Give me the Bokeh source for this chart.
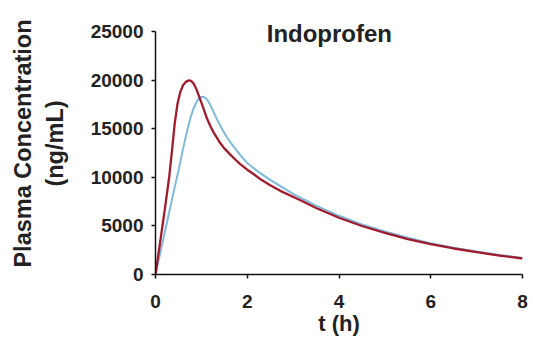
from bokeh.plotting import figure
from bokeh.models import Label, FixedTicker, Range1d
from bokeh.embed import file_html
from bokeh.resources import INLINE

# Time points (h) and plasma concentrations (ng/mL)
t_red = [0, 0.1, 0.2, 0.3, 0.36, 0.42, 0.48, 0.54, 0.6, 0.66, 0.72, 0.78, 0.84, 0.9, 0.97, 1.04, 1.12, 1.2, 1.26, 1.35, 1.41, 1.5, 1.63, 1.75, 1.84, 2.0, 2.15, 2.28, 2.5, 2.72, 3.16, 3.5, 4.0, 4.5, 5.0, 5.5, 6.0, 6.5, 7.0, 7.5, 8.0]
c_red = [0, 3300, 6600, 10100, 12800, 15600, 17600, 18800, 19500, 19850, 20000, 19950, 19600, 19000, 18100, 17200, 16100, 15250, 14700, 14000, 13550, 13000, 12350, 11800, 11400, 10800, 10300, 9850, 9200, 8620, 7650, 6850, 5850, 5000, 4300, 3650, 3120, 2680, 2300, 1950, 1650]

t_blue = [0, 0.2, 0.4, 0.5, 0.58, 0.64, 0.7, 0.76, 0.82, 0.88, 0.94, 1.0, 1.04, 1.1, 1.15, 1.2, 1.25, 1.34, 1.45, 1.55, 1.63, 1.75, 1.9, 2.0, 2.25, 2.5, 3.0, 3.5, 4.0, 4.5, 5.0, 5.5, 6.0, 6.5, 7.0, 7.5, 8.0]
c_blue = [0, 4300, 8600, 10700, 12500, 13800, 15000, 16100, 17000, 17650, 18100, 18300, 18320, 18150, 17850, 17400, 16900, 16000, 15000, 14200, 13650, 12900, 12000, 11500, 10550, 9750, 8300, 7100, 6050, 5170, 4430, 3780, 3230, 2770, 2370, 2010, 1700]

x_ticks = [0, 2, 4, 6, 8]
y_ticks = [0, 5000, 10000, 15000, 20000, 25000]

title_text = "Indoprofen"
x_label = "t (h)"
y_label = "Plasma Concentration\n(ng/mL)"

p = figure(width=533, height=341, output_backend="svg", toolbar_location=None,
           x_range=Range1d(0, 8), y_range=Range1d(0, 27000),
           min_border_left=155, min_border_right=11, min_border_top=12, min_border_bottom=67)
p.outline_line_color = None
p.grid.visible = False
p.background_fill_color = "white"
p.border_fill_color = "white"

p.line(t_blue, c_blue, line_color="#7dbadc", line_width=2, line_join="round")
p.line(t_red, c_red, line_color="#a11b2e", line_width=2.3, line_join="round")

for ax in (p.xaxis[0], p.yaxis[0]):
    ax.axis_line_color = "#111111"
    ax.axis_line_width = 1.5
    ax.major_tick_line_color = "#111111"
    ax.major_tick_line_width = 1.5
    ax.major_tick_in = 0
    ax.major_tick_out = 4
    ax.minor_tick_line_color = None
    ax.major_label_text_font = "Liberation Sans"
    ax.major_label_text_font_style = "bold"
    ax.major_label_text_font_size = "19px"
    ax.major_label_text_color = "#222222"
    ax.axis_label_text_font = "Liberation Sans"
    ax.axis_label_text_font_style = "bold"
    ax.axis_label_text_color = "#222222"

p.xaxis.axis_label_text_font_size = "22px"
p.yaxis.axis_label_text_font_size = "23.5px"
p.xaxis.ticker = FixedTicker(ticks=x_ticks)
p.yaxis.ticker = FixedTicker(ticks=y_ticks)
p.yaxis.bounds = (0, 25000)
p.xaxis.axis_label = x_label
p.yaxis.axis_label = y_label
p.xaxis.major_label_standoff = 16
p.yaxis.major_label_standoff = 8
p.xaxis.axis_label_standoff = 0
p.yaxis.axis_label_standoff = 20

title = Label(x=3.79, y=24825, text=title_text, text_align="center", text_baseline="alphabetic",
              text_font="Liberation Sans", text_font_style="bold", text_font_size="24px",
              text_color="#222222")
p.add_layout(title)

open("out.html", "w").write(file_html(p, INLINE))
